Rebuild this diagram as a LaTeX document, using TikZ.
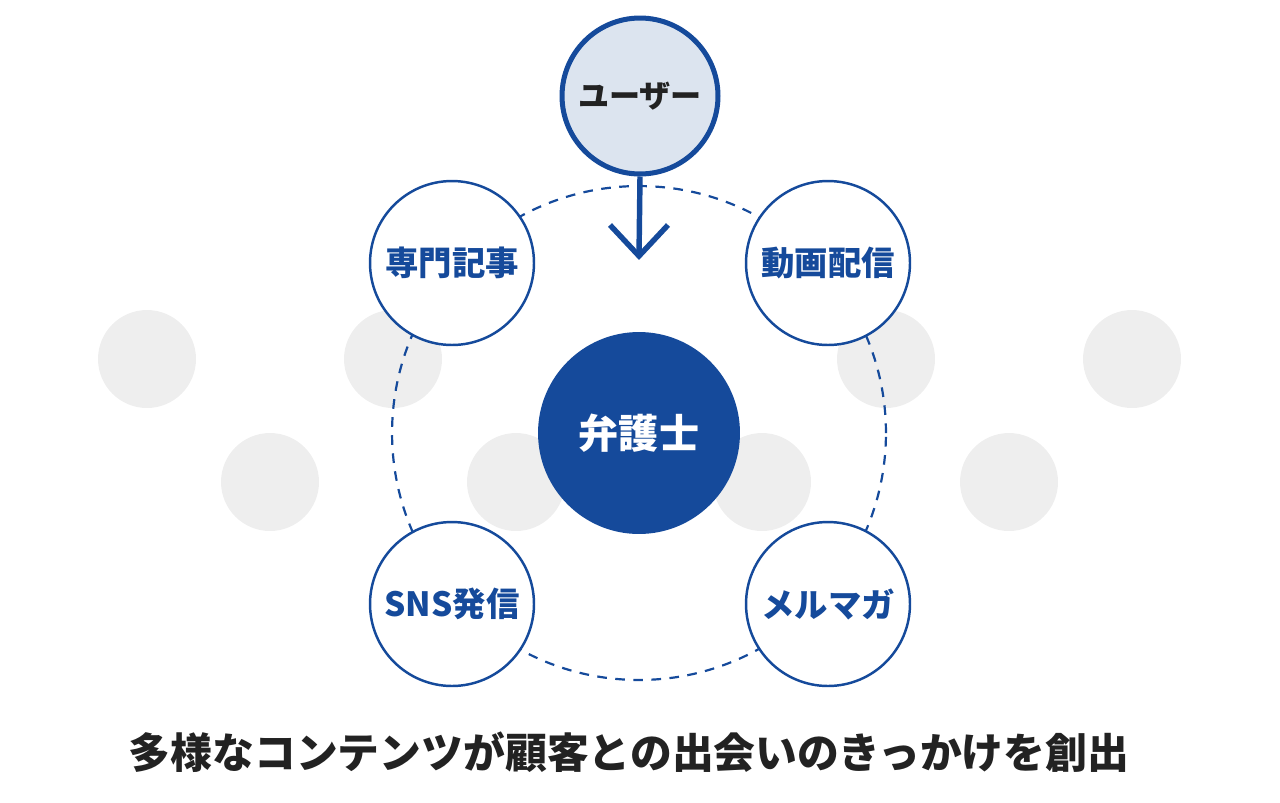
\documentclass[tikz,border=0pt]{standalone}
\usepackage{fontspec}
\newfontfamily\jp{Noto Sans CJK JP}
\definecolor{mainblue}{HTML}{154A9B}
\definecolor{userfill}{HTML}{DCE4EF}
\definecolor{lightgray}{HTML}{EEEEEE}
\definecolor{darktext}{HTML}{222222}
\begin{document}
\begin{tikzpicture}[x=0.02cm,y=-0.02cm,
  graydot/.style={circle,fill=lightgray,inner sep=0pt,minimum size=1.96cm},
  satellite/.style={circle,draw=mainblue,line width=1.4pt,fill=white,inner sep=0pt,minimum size=3.28cm,
    text=mainblue,font=\jp\bfseries\fontsize{19pt}{22pt}\selectfont},
  usernode/.style={circle,draw=mainblue,line width=2.85pt,fill=userfill,inner sep=0pt,minimum size=3.12cm,
    text=darktext,font=\jp\bfseries\fontsize{17.7pt}{20pt}\selectfont},
  centernode/.style={circle,fill=mainblue,inner sep=0pt,minimum size=4.04cm,
    text=white,font=\jp\bfseries\fontsize{22.8pt}{26pt}\selectfont},
  ring/.style={draw=mainblue,line width=1.25pt,dash pattern=on 5.5pt off 4.8pt},
  arrowline/.style={draw=mainblue,line width=3.1pt}
]
\useasboundingbox (0,0) rectangle (1280,802);
% gray decorative dots
\node[graydot] (g1) at (147,359) {};
\node[graydot] (g2) at (393,359) {};
\node[graydot] (g3) at (270,482) {};
\node[graydot] (g4) at (516,482) {};
\node[graydot] (g5) at (762,482) {};
\node[graydot] (g6) at (886,359) {};
\node[graydot] (g7) at (1009,482) {};
\node[graydot] (g8) at (1132,359) {};
% center
\coordinate (c) at (639,433);
\draw[ring] (c) circle[radius=4.94cm];
\node[centernode] (lawyer) at (c) {弁護士};
% satellites
\node[satellite] (s1) at (452,263) {専門記事};
\node[satellite] (s2) at (828,263) {動画配信};
\node[satellite] (s3) at (452,604) {SNS発信};
\node[satellite] (s4) at (828,604) {メルマガ};
% user and arrow
\node[usernode] (user) at (640,96) {ユーザー};
\coordinate (tip) at (639,256);
\coordinate (wl) at (610,225);
\coordinate (wr) at (668,225);
\draw[arrowline] (user.south) -- (tip);
\draw[arrowline,line join=miter] (wl) -- (tip) -- (wr);
% caption
\node[text=darktext,font=\jp\bfseries\fontsize{23.8pt}{28pt}\selectfont] (cap) at (629,752) {多様なコンテンツが顧客との出会いのきっかけを創出};
\end{tikzpicture}
\end{document}
